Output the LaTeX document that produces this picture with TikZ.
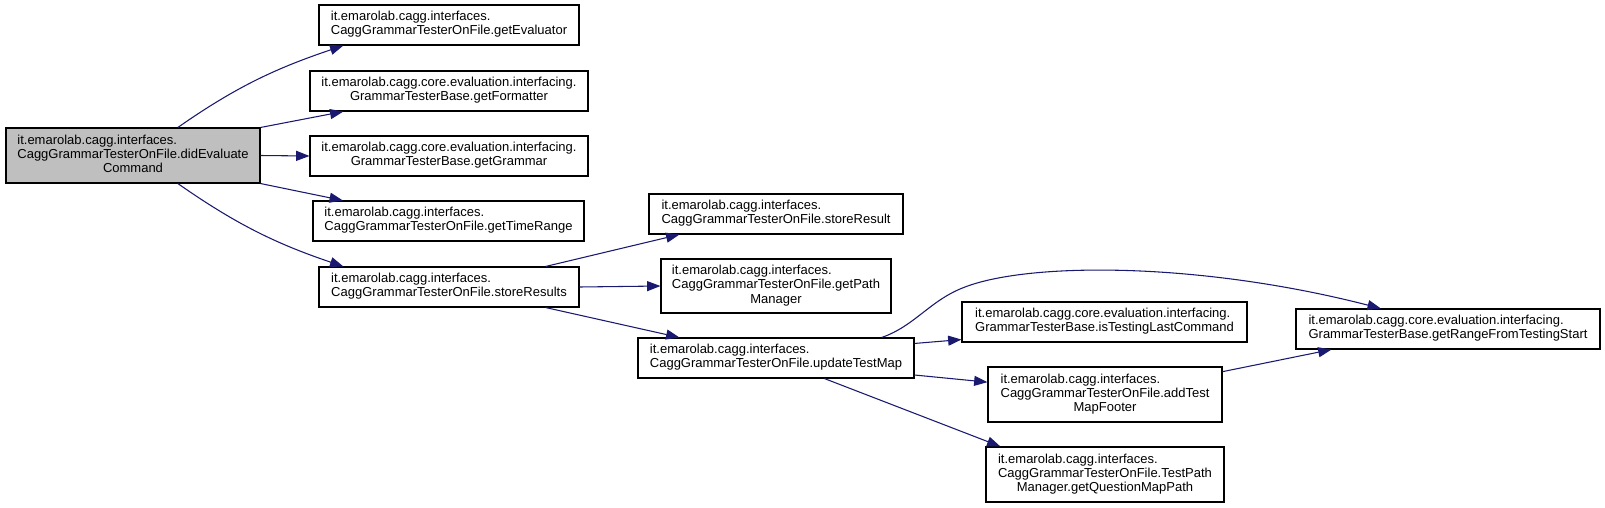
\documentclass[tikz,border=0pt]{standalone}
\usepackage{fontspec}
\setmainfont{Liberation Sans}
\usetikzlibrary{arrows.meta}
\definecolor{EdgeBlue}{RGB}{25, 25, 112}
\definecolor{RootGray}{RGB}{191, 191, 191}
% first lines left, last line centred
\newcommand{\twoline}[2]{\begin{tabular}{@{}l@{}}#1\\\multicolumn{1}{@{}c@{}}{#2}\end{tabular}}
\newcommand{\threeline}[3]{\begin{tabular}{@{}l@{}}#1\\#2\\\multicolumn{1}{@{}c@{}}{#3}\end{tabular}}

\begin{document}
\begin{tikzpicture}[
    x=0.75pt, y=-0.75pt,
    fnbox/.style={draw=black, fill=white, line width=0.8pt, inner sep=0pt, font=\fontsize{9.75}{10.65}\selectfont},
    rootbox/.style={fnbox, fill=RootGray},
    call/.style={-{Triangle[length=10pt, width=7.5pt]}, EdgeBlue, line width=0.8pt}
  ]
    \useasboundingbox (0,0) rectangle (1605,507);

    % Root (left)
    \node[rootbox, minimum width=190.5pt, minimum height=41.25pt] (didEval) at (133, 155.5) {\threeline{it.emarolab.cagg.interfaces.}{CaggGrammarTesterOnFile.didEvaluate}{Command}};

    % Direct callees
    \node[fnbox, minimum width=195pt, minimum height=30pt] (getEval) at (449, 25) {\twoline{it.emarolab.cagg.interfaces.}{CaggGrammarTesterOnFile.getEvaluator}};
    \node[fnbox, minimum width=208.5pt, minimum height=30pt] (getFmt) at (449, 91) {\twoline{it.emarolab.cagg.core.evaluation.interfacing.}{GrammarTesterBase.getFormatter}};
    \node[fnbox, minimum width=208.5pt, minimum height=30pt] (getGram) at (449, 156) {\twoline{it.emarolab.cagg.core.evaluation.interfacing.}{GrammarTesterBase.getGrammar}};
    \node[fnbox, minimum width=203.25pt, minimum height=30pt] (getTime) at (448.5, 221) {\twoline{it.emarolab.cagg.interfaces.}{CaggGrammarTesterOnFile.getTimeRange}};
    \node[fnbox, minimum width=195pt, minimum height=30pt] (storeRes) at (449, 287) {\twoline{it.emarolab.cagg.interfaces.}{CaggGrammarTesterOnFile.storeResults}};

    % Callees of storeResults
    \node[fnbox, minimum width=190.5pt, minimum height=30pt] (storeOne) at (776, 214) {\twoline{it.emarolab.cagg.interfaces.}{CaggGrammarTesterOnFile.storeResult}};
    \node[fnbox, minimum width=172.5pt, minimum height=40.5pt] (getPath) at (776, 286) {\threeline{it.emarolab.cagg.interfaces.}{CaggGrammarTesterOnFile.getPath}{Manager}};
    \node[fnbox, minimum width=207pt, minimum height=30pt] (updMap) at (776, 358) {\twoline{it.emarolab.cagg.interfaces.}{CaggGrammarTesterOnFile.updateTestMap}};

    % Callees of updateTestMap
    \node[fnbox, minimum width=213.75pt, minimum height=30pt] (isLast) at (1104.5, 322) {\twoline{it.emarolab.cagg.core.evaluation.interfacing.}{GrammarTesterBase.isTestingLastCommand}};
    \node[fnbox, minimum width=175.5pt, minimum height=41.25pt] (addFoot) at (1105, 394.5) {\threeline{it.emarolab.cagg.interfaces.}{CaggGrammarTesterOnFile.addTest}{MapFooter}};
    \node[fnbox, minimum width=178.5pt, minimum height=41.25pt] (getQPath) at (1105, 474.5) {\threeline{it.emarolab.cagg.interfaces.}{CaggGrammarTesterOnFile.TestPath}{Manager.getQuestionMapPath}};
    \node[fnbox, minimum width=228pt, minimum height=30pt] (getRange) at (1448, 329) {\twoline{it.emarolab.cagg.core.evaluation.interfacing.}{GrammarTesterBase.getRangeFromTestingStart}};

    % Calls
    \draw[call] (didEval.32) .. controls +(60,-42) and +(-65,22) .. (getEval.191);
    \draw[call] (didEval.north east) -- (getFmt.191);
    \draw[call] (didEval.east) -- (getGram.west);
    \draw[call] (didEval.south east) -- (getTime.169);
    \draw[call] (didEval.-32) .. controls +(60,42) and +(-65,-22) .. (storeRes.169);

    \draw[call] (storeRes.12) -- (storeOne.192);
    \draw[call] (storeRes.east) -- (getPath.west);
    \draw[call] (storeRes.-12) -- (updMap.168);

    \draw[call] (updMap.11) .. controls (915,326) and (930,300) .. (965,287) .. controls (1030,262) and (1200,262) .. (getRange.163);
    \draw[call] (updMap.6) -- (isLast.187);
    \draw[call] (updMap.-7) -- (addFoot.174);
    \draw[call] (updMap.-23) -- (getQPath.165);
    \draw[call] (addFoot.11) -- (getRange.190);
  \end{tikzpicture}
\end{document}
